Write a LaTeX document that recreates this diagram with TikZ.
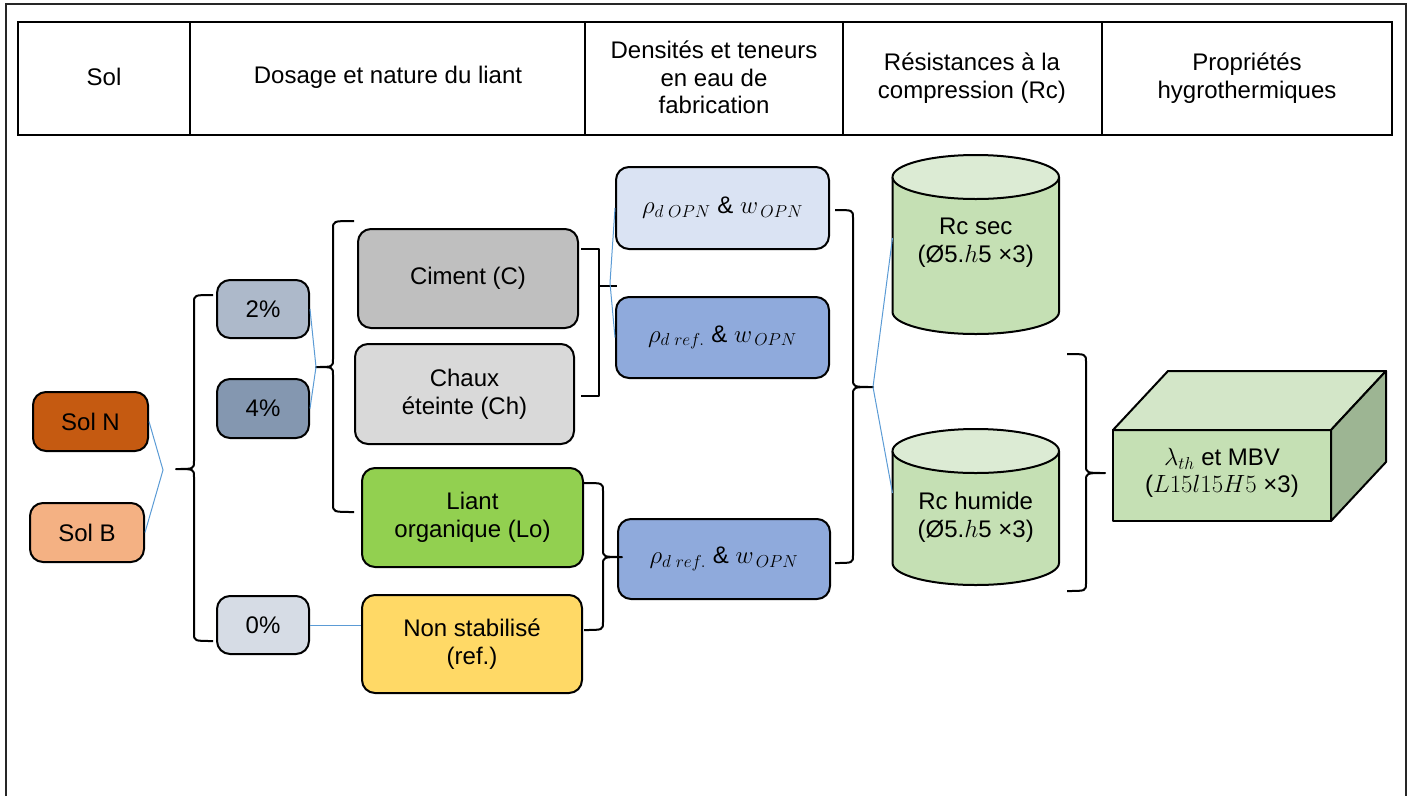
\documentclass[tikz,border=0pt]{standalone}
\usepackage{fontspec}
\setmainfont{Liberation Sans}
\definecolor{solN}{HTML}{C55A11}
\definecolor{solB}{HTML}{F4B183}
\definecolor{pctA}{HTML}{ADB9CA}
\definecolor{pctB}{HTML}{8497B0}
\definecolor{pctC}{HTML}{D6DCE5}
\definecolor{cim}{HTML}{BFBFBF}
\definecolor{chx}{HTML}{D9D9D9}
\definecolor{lo}{HTML}{92D050}
\definecolor{nst}{HTML}{FFD966}
\definecolor{rhoA}{HTML}{DAE3F3}
\definecolor{rhoB}{HTML}{8FAADC}
\definecolor{grn}{HTML}{C5E0B4}
\definecolor{grnL}{HTML}{DCEBD4}
\definecolor{grnT}{HTML}{D3E6C8}
\definecolor{grnD}{HTML}{9DB593}
\definecolor{lineblue}{HTML}{5B9BD5}
\newcommand\brc[6]{\draw[brc] (#1,#4) .. controls (#2,#4) .. (#2,#4+8) -- (#2,#5-8) .. controls (#2,#5) .. (#3,#5) .. controls (#2,#5) .. (#2,#5+8) -- (#2,#6-8) .. controls (#2,#6) .. (#1,#6);}
\begin{document}
\begin{tikzpicture}[x=1pt,y=-1pt,
  txt/.style={font=\fontsize{24}{27.6}\selectfont, align=center, inner sep=0pt},
  box/.style={txt, draw=black, line width=2pt, rounded corners=13pt},
  brc/.style={draw=black, line width=2pt, line join=round},
  conn/.style={draw=lineblue, line width=1pt},
  solid3d/.style={draw=black, line width=2pt, line join=round}]
\useasboundingbox (0,0) rectangle (1409,796);
% outer frame
\draw[line width=2pt, draw=black!85] (6,796) -- (6,4) -- (1406,4) -- (1406,796);
% header table
\draw[line width=2pt] (18,22) rectangle (1392,135);
\foreach \xx in {190,585,843,1102} \draw[line width=2pt] (\xx,22) -- (\xx,135);
\node[txt] (h1) at (104,77) {Sol};
\node[txt] (h2) at (388,77) {Dosage et nature du liant};
\node[txt] (h3) at (714,77.5) {Densités et teneurs\\en eau de\\fabrication};
\node[txt] (h4) at (972,78) {Résistances à la\\compression (Rc)};
\node[txt] (h5) at (1247,78) {Propriétés\\hygrothermiques};
% soils
\node[box, fill=solN, minimum width=115pt, minimum height=59pt] (solN) at (90.5,421.5) {Sol N};
\node[box, fill=solB, minimum width=114pt, minimum height=59pt] (solB) at (87,532.5) {Sol B};
% dosage
\node[box, fill=pctA, minimum width=92pt, minimum height=58pt] (p2) at (263,309) {2\%};
\node[box, fill=pctB, minimum width=92pt, minimum height=59pt] (p4) at (263,408.5) {4\%};
\node[box, fill=pctC, minimum width=92pt, minimum height=58pt] (p0) at (263,625) {0\%};
% binders
\node[box, fill=cim, minimum width=220pt, minimum height=99pt] (cim) at (468,278.5) {Ciment (C)};
\node[box, fill=chx, minimum width=219pt, minimum height=100pt] (chx) at (464.5,394) {Chaux\\éteinte (Ch)};
\node[box, fill=lo, minimum width=221pt, minimum height=99pt] (lo) at (472.5,517.5) {Liant\\organique (Lo)};
\node[box, fill=nst, minimum width=220pt, minimum height=98pt] (nst) at (472,644) {Non stabilisé\\(ref.)};
% densities
\node[box, fill=rhoA, minimum width=213pt, minimum height=82pt] (r1) at (722.5,208) {$\rho_{d\;OPN}$ \& $w_{\,OPN}$};
\node[box, fill=rhoB, minimum width=213pt, minimum height=81pt] (r2) at (722.5,337.5) {$\rho_{d\;ref.}$ \& $w_{\,OPN}$};
\node[box, fill=rhoB, minimum width=212pt, minimum height=80pt] (r3) at (724,559) {$\rho_{d\;ref.}$ \& $w_{\,OPN}$};
% cylinders
\path[solid3d, fill=grn] (892.5,177) -- (892.5,312) arc[start angle=180,end angle=360,x radius=83.25pt,y radius=22pt] -- (1059,177);
\draw[solid3d, fill=grnL] (975.75,177) ellipse [x radius=83.25pt, y radius=22pt];
\node[txt] (c1) at (975.75,243) {Rc sec\\(Ø5.$h$5 ×3)};
\path[solid3d, fill=grn] (892.5,451) -- (892.5,563) arc[start angle=180,end angle=360,x radius=83.25pt,y radius=22pt] -- (1059,451);
\draw[solid3d, fill=grnL] (975.75,451) ellipse [x radius=83.25pt, y radius=22pt];
\node[txt] (c2) at (975.75,517) {Rc humide\\(Ø5.$h$5 ×3)};
\coordinate (c1w) at (892.5,238);
\coordinate (c2w) at (892.5,493);
% cuboid
\draw[solid3d, fill=grn] (1113,430) rectangle (1331,521);
\draw[solid3d, fill=grnT] (1113,430) -- (1168,371) -- (1386,371) -- (1331,430) -- cycle;
\draw[solid3d, fill=grnD] (1331,430) -- (1386,371) -- (1386,462) -- (1331,521) -- cycle;
\node[txt] (cube) at (1222,473) {$\lambda_{th}$ et MBV\\($L15l15H5$ ×3)};
% braces
\brc{213}{194}{176}{295}{469}{641}
\brc{354}{333}{316}{221}{367}{512}
\draw[brc] (581,249) -- (599,249) -- (599,396) -- (581,396);
\draw[brc] (599,286) -- (617,286);
\brc{584}{603}{622}{483}{557}{630}
\brc{835}{853}{873}{210}{387}{563}
\brc{1067}{1086}{1105}{354}{473}{591}
% blue connectors
\coordinate (j1) at (163,470);
\coordinate (j2) at (316,367);
\coordinate (j3) at (610,283);
\coordinate (j4) at (873,387);
\draw[conn] (solN.east) -- (j1) -- (solB.east);
\draw[conn] (p2.east) -- (j2) -- (p4.east);
\draw[conn] (r1.west) -- (j3) -- (r2.west);
\draw[conn] (p0.east) -- (nst.west |- p0.east);
\draw[conn] (c1w) -- (j4) -- (c2w);
\end{tikzpicture}
\end{document}
